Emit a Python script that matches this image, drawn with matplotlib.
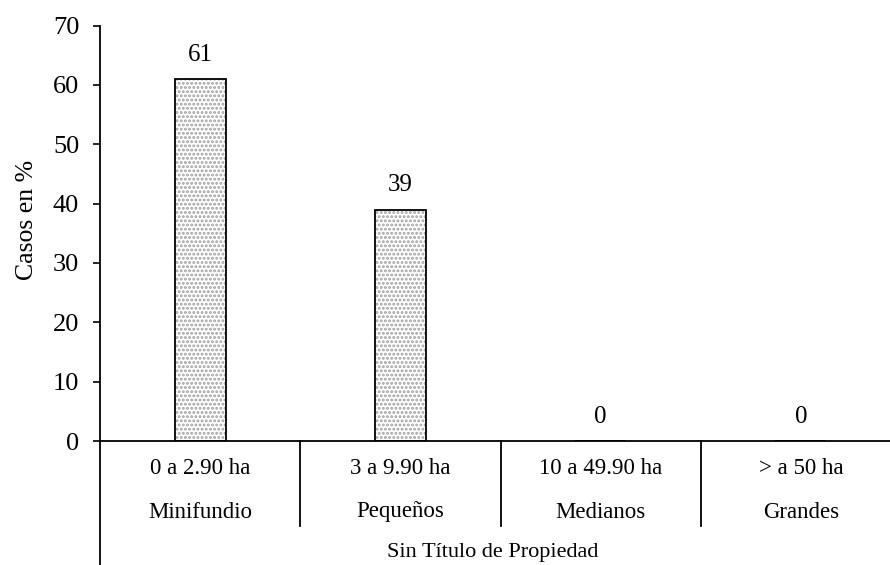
import matplotlib.pyplot as plt
import matplotlib.transforms as mtransforms
from matplotlib.lines import Line2D

# datos
rangos = ["0 a 2.90 ha", "3 a 9.90 ha", "10 a 49.90 ha", "> a 50 ha"]
clases = ["Minifundio", "Pequeños", "Medianos", "Grandes"]
grupo = "Sin Título de Propiedad"
casos = [61, 39, 0, 0]
yticks = [0, 10, 20, 30, 40, 50, 60, 70]

plt.rcParams['font.family'] = ['Liberation Serif', 'DejaVu Serif']
plt.rcParams['hatch.color'] = '#a0a0a0'
plt.rcParams['hatch.linewidth'] = 1.4

W, H = 890, 565
fig = plt.figure(figsize=(W / 100, H / 100), dpi=100)
ax = fig.add_axes([100 / W, (H - 441) / H, 801 / W, 415.4 / H])

x = [i + 0.5 for i in range(len(casos))]
# relleno punteado y contorno negro
ax.bar(x, casos, width=0.255, color='white', hatch='....', edgecolor='#a0a0a0', linewidth=0)
ax.bar(x, casos, width=0.255, fill=False, edgecolor='black', linewidth=1.3)

for xi, v in zip(x, casos):
    ax.annotate(str(v), (xi, v), xytext=(0, 9.5), textcoords='offset points',
                ha='center', va='bottom', fontsize=18)

ax.set_xlim(0, len(casos))
ax.set_ylim(0, 70)
ax.set_yticks(yticks)
ax.set_xticks([])
ax.tick_params(axis='y', direction='out', length=5, width=1.2, pad=10, labelsize=19)
for s in ['top', 'right']:
    ax.spines[s].set_visible(False)
ax.spines['left'].set_linewidth(1.3)
ax.spines['bottom'].set_linewidth(1.3)
ax.set_ylabel("Casos en %", fontsize=18.5)
ax.yaxis.set_label_coords(-62 / 801, (441 - 220) / 415.4)

# etiquetas de categorias en dos niveles
tr = mtransforms.blended_transform_factory(ax.transData, fig.transFigure)
def fy(px):
    return (H - px) / H

for i, (r, c) in enumerate(zip(rangos, clases)):
    ax.text(x[i], fy(468), r, transform=tr, ha='center', va='center', fontsize=16.5)
    ax.text(x[i], fy(512), c, transform=tr, ha='center', va='center', fontsize=16.5)
    if i > 0:
        fig.add_artist(Line2D([i, i], [fy(441), fy(526)], transform=tr,
                              color='black', linewidth=1.3))
ax.text(1.96, fy(553), grupo, transform=tr, ha='center', va='center', fontsize=16)
fig.add_artist(Line2D([0, 0], [fy(441), fy(H + 2)], transform=tr, color='black', linewidth=1.3))

fig.savefig("out.png", dpi=100)
